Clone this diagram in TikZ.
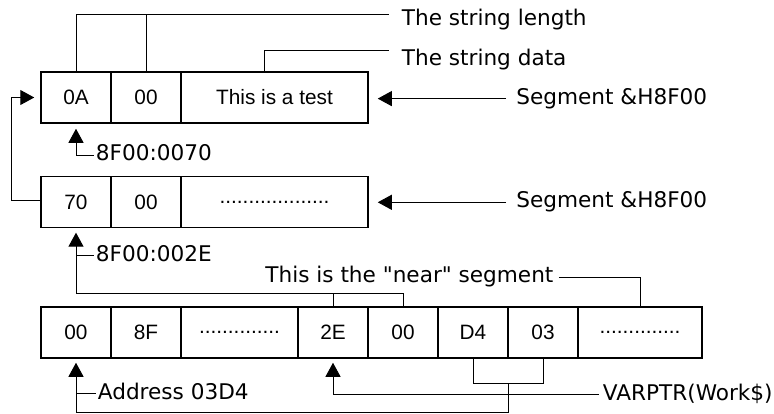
\documentclass[tikz,border=0pt]{standalone}
\usepackage{fontspec}
\setmainfont{DejaVu Sans}
\newfontfamily\cellfont{Liberation Sans}
\usetikzlibrary{arrows.meta}

\tikzset{
  cell/.style={draw, line width=0.75pt, minimum width=#1, minimum height=25.5pt, inner sep=0pt,
    font=\cellfont\fontsize{10.4}{12}\selectfont},
  cell/.default=35pt,
  lbl/.style={anchor=base west, inner xsep=1pt, inner ysep=0pt, text height=8.1pt, text depth=2.7pt,
    font=\fontsize{10.8}{13}\selectfont},
  wire/.style={line width=0.5pt},
  ptr/.style={wire, -{Triangle[length=7pt,width=7.5pt]}}
}

\begin{document}
\begin{tikzpicture}[x=0.5pt,y=-0.5pt]
\useasboundingbox (0,0) rectangle (774,413);
% the three rows of bytes
\node[cell] (a1) at (76,97.5) {0A}; \node[cell] (a2) at (146,97.5) {00}; \node[cell=93.5pt] (a3) at (274.5,97.5) {This is a test};
\node[cell] (b1) at (76,202) {70}; \node[cell] (b2) at (146,202) {00}; \node[cell=93.5pt] (b3) at (274.5,202) {...................};
\node[cell] (c1) at (76,332.5) {00}; \node[cell] (c2) at (146,332.5) {8F}; \node[cell=58.5pt] (c3) at (239.5,332.5) {..............};
\node[cell] (c4) at (333,332.5) {2E}; \node[cell] (c5) at (403,332.5) {00}; \node[cell] (c6) at (473,332.5) {D4};
\node[cell] (c7) at (543,332.5) {03}; \node[cell=62pt] (c8) at (640,332.5) {..............};
% labels
\node[lbl] (len) at (399.5,25.7) {The string length};
\node[lbl] (data) at (399.5,65) {The string data};
\node[lbl] (seg1) at (514,104) {Segment \&H8F00};
\node[lbl] (seg2) at (514,207.7) {Segment \&H8F00};
\node[lbl] (addr1) at (93.5,160.5) {8F00:0070};
\node[lbl] (addr2) at (93.5,261) {8F00:002E};
\node[lbl] (near) at (263,282.7) {This is the \textquotedbl near\textquotedbl{} segment};
\node[lbl] (addr3) at (95.5,399.3) {Address 03D4};
\node[lbl] (varptr) at (600.5,400) {VARPTR(Work\$)};
% first row
\coordinate (lenhook) at ([xshift=-5.5pt,yshift=3pt]len.west);
\coordinate (datahook) at ([xshift=-5.5pt,yshift=4.8pt]data.west);
\draw[wire] (a1.north) |- (lenhook);
\draw[wire] (a2.north) -- (a2.north |- lenhook);
\draw[wire] ([xshift=-5.25pt]a3.north) |- (datahook);
\draw[ptr, shorten <=4pt, shorten >=4.5pt] (seg1.west) -- (seg1.west -| a3.east);
\draw[ptr, shorten >=2.5pt] (addr1.west) -| (a1.south);
% second row
\draw[ptr, shorten >=3pt] ([yshift=1pt]b1.west) -- ++(-29,0) |- (a1.west);
\draw[ptr, shorten <=4pt, shorten >=4.5pt] (seg2.west) -- (seg2.west -| b3.east);
% third row
\draw[wire] (c4.north) -- ++(0,-13) -| (c5.north);
\draw[ptr, shorten >=2.2pt] ([yshift=6.5pt]c4.north) -| (b1.south);
\draw[wire] (addr2.west) -- (addr2.west -| b1.south);
\draw[wire, shorten <=1.5pt] (near.east) -| (c8.north);
\draw[wire] (c6.south) -- ++(0,25) -| (c7.south);
\draw[ptr, shorten >=2pt] ([yshift=-12.5pt]c6.south east) -- ++(0,29) -| (c1.south);
\draw[wire] (addr3.west) -- (addr3.west -| c1.south);
\draw[ptr, shorten <=1pt, shorten >=2pt] (varptr.west) -| (c4.south);
\end{tikzpicture}
\end{document}
